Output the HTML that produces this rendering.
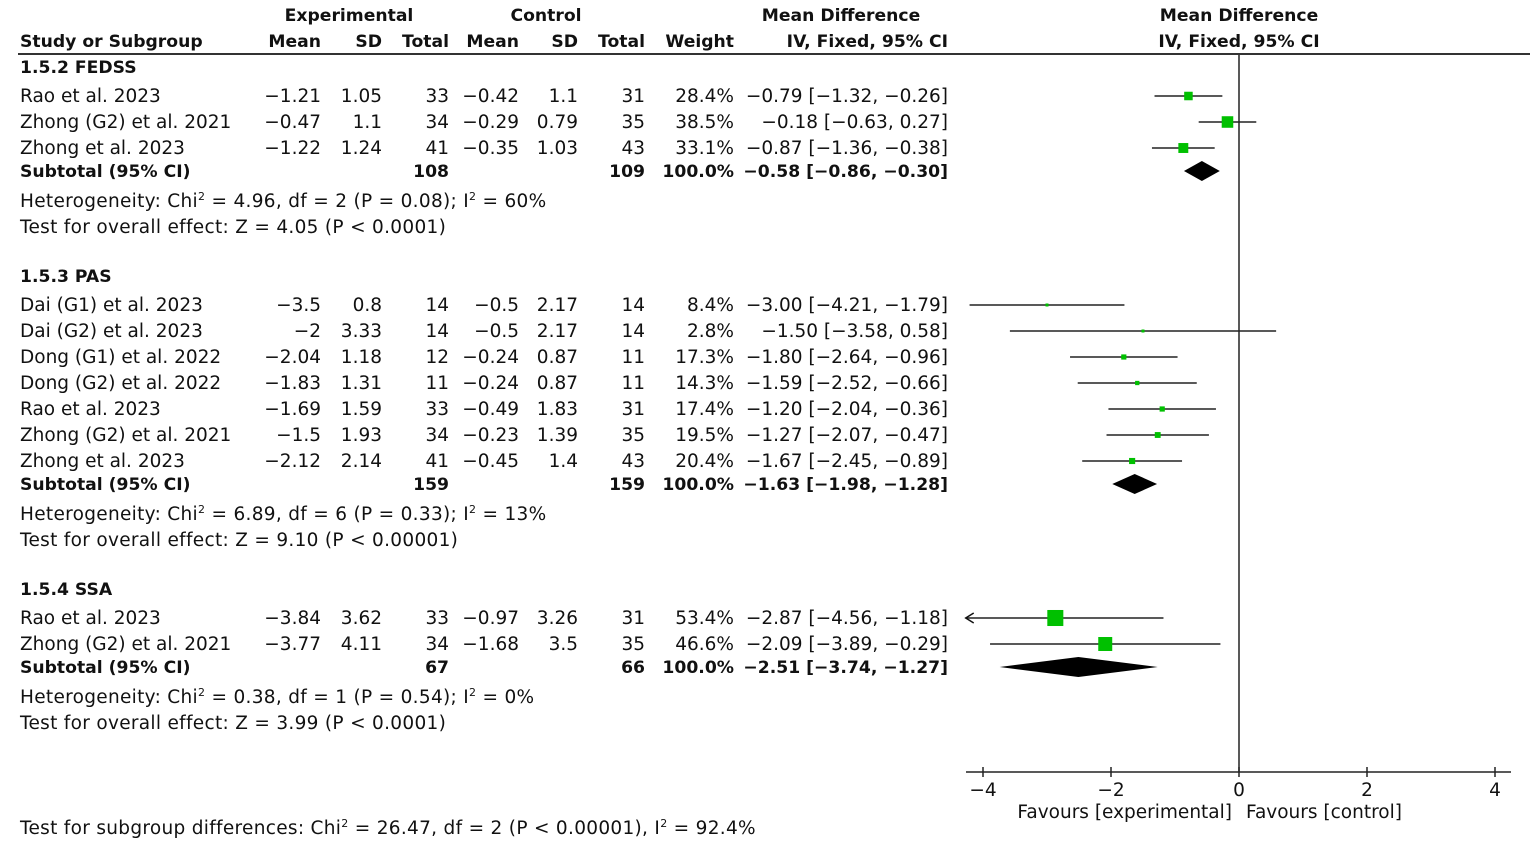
<!DOCTYPE html>
<html><head><meta charset="utf-8"><style>
html,body{margin:0;padding:0;background:#fff;}
svg{display:block;font-family:"DejaVu Sans","Liberation Sans",sans-serif;font-size:18.5px;fill:#111;}
.b{font-weight:bold;font-size:17.2px;}
.w{letter-spacing:0.3px;}
</style></head><body>
<svg id="c" width="1535" height="843" viewBox="0 0 1535 843" xmlns="http://www.w3.org/2000/svg">
<g class="b">
<text x="349" y="21" text-anchor="middle">Experimental</text>
<text x="546" y="21" text-anchor="middle">Control</text>
<text x="841" y="21" text-anchor="middle">Mean Difference</text>
<text x="1239" y="21" text-anchor="middle">Mean Difference</text>
<text x="20" y="47">Study or Subgroup</text>
<text x="321" y="47" text-anchor="end">Mean</text>
<text x="382" y="47" text-anchor="end">SD</text>
<text x="449" y="47" text-anchor="end">Total</text>
<text x="519" y="47" text-anchor="end">Mean</text>
<text x="578" y="47" text-anchor="end">SD</text>
<text x="645" y="47" text-anchor="end">Total</text>
<text x="734" y="47" text-anchor="end">Weight</text>
<text x="948" y="47" text-anchor="end">IV, Fixed, 95% CI</text>
<text x="1239" y="47" text-anchor="middle">IV, Fixed, 95% CI</text>
</g>
<line x1="18" y1="54" x2="1530" y2="54" stroke="#333" stroke-width="2"/>
<g id="rows"></g>
<g id="plot"></g>
<text class="w" x="20" y="834">Test for subgroup differences: Chi<tspan dy="-7" font-size="11">2</tspan><tspan dy="7"> = 26.47, df = 2 (P &lt; 0.00001), I</tspan><tspan dy="-7" font-size="11">2</tspan><tspan dy="7"> = 92.4%</tspan></text>
</svg>
<script>
const groupNames = ["1.5.2 FEDSS", "1.5.3 PAS", "1.5.4 SSA"];
const groupY = [67, 276, 589];
const studies = [
 ["Rao et al. 2023","Zhong (G2) et al. 2021","Zhong et al. 2023"],
 ["Dai (G1) et al. 2023","Dai (G2) et al. 2023","Dong (G1) et al. 2022","Dong (G2) et al. 2022","Rao et al. 2023","Zhong (G2) et al. 2021","Zhong et al. 2023"],
 ["Rao et al. 2023","Zhong (G2) et al. 2021"]
];
const expMean = [[-1.21,-0.47,-1.22],[-3.5,-2,-2.04,-1.83,-1.69,-1.5,-2.12],[-3.84,-3.77]];
const expSD = [[1.05,1.1,1.24],[0.8,3.33,1.18,1.31,1.59,1.93,2.14],[3.62,4.11]];
const expN = [[33,34,41],[14,14,12,11,33,34,41],[33,34]];
const ctlMean = [[-0.42,-0.29,-0.35],[-0.5,-0.5,-0.24,-0.24,-0.49,-0.23,-0.45],[-0.97,-1.68]];
const ctlSD = [[1.1,0.79,1.03],[2.17,2.17,0.87,0.87,1.83,1.39,1.4],[3.26,3.5]];
const ctlN = [[31,35,43],[14,14,11,11,31,35,43],[31,35]];
const weight = [[28.4,38.5,33.1],[8.4,2.8,17.3,14.3,17.4,19.5,20.4],[53.4,46.6]];
const md = [[-0.79,-0.18,-0.87],[-3.00,-1.50,-1.80,-1.59,-1.20,-1.27,-1.67],[-2.87,-2.09]];
const lo = [[-1.32,-0.63,-1.36],[-4.21,-3.58,-2.64,-2.52,-2.04,-2.07,-2.45],[-4.56,-3.89]];
const hi = [[-0.26,0.27,-0.38],[-1.79,0.58,-0.96,-0.66,-0.36,-0.47,-0.89],[-1.18,-0.29]];
const subExpN = [108,159,67], subCtlN = [109,159,66];
const subMD = [-0.58,-1.63,-2.51], subLo = [-0.86,-1.98,-3.74], subHi = [-0.30,-1.28,-1.27];
const hetChi = ["4.96","6.89","0.38"], hetDf = [2,6,1], hetP = ["0.08","0.33","0.54"], hetI2 = ["60%","13%","0%"];
const zVal = ["4.05","9.10","3.99"], zP = ["P < 0.0001","P < 0.00001","P < 0.0001"];
const ticks = [-4,-2,0,2,4];

const NS="http://www.w3.org/2000/svg";
const X0=1239, PX=64, XMIN=-4.27, XMAX=4.27, AXY=772;
const xs = v => X0 + v*PX;
const rowsG=document.getElementById('rows'), plotG=document.getElementById('plot');
function el(tag, attrs, parent, txt){const e=document.createElementNS(NS,tag);for(const k in attrs)e.setAttribute(k,attrs[k]);if(txt!==undefined)e.textContent=txt;parent.appendChild(e);return e;}
function fmt(v){const s=(Math.abs(v)).toString();return (v<0?"\u2212":"")+s;}
function f2(v){return (v<0?"\u2212":"")+Math.abs(v).toFixed(2);}
const cols=[321,382,449,519,578,645,734];
function ci(m,l,h){return f2(m)+" ["+f2(l)+", "+f2(h)+"]";}
function sup(t,parts){
 let prev=false;
 parts.forEach(p=>{const ts=el('tspan',{},t,p[0]);if(p[1]){ts.setAttribute('dy','-7');ts.setAttribute('font-size','11');prev=true;}else if(prev){ts.setAttribute('dy','7');prev=false;}});
}
groupNames.forEach((gn,g)=>{
 const gy=groupY[g];
 const h=el('text',{x:20,y:gy+6,class:'b'},rowsG,gn);
 
 
 let y=gy+29;
 studies[g].forEach((s,i)=>{
  const row=el('g',{},rowsG);
  
  
  el('text',{x:20,y:y+6},row,s);
  const vals=[fmt(expMean[g][i]),String(expSD[g][i]),String(expN[g][i]),fmt(ctlMean[g][i]),String(ctlSD[g][i]),String(ctlN[g][i]),weight[g][i].toFixed(1)+"%"];
  vals.forEach((v,k)=>el('text',{x:cols[k],y:y+6,'text-anchor':'end'},row,v));
  el('text',{x:948,y:y+6,'text-anchor':'end'},row,ci(md[g][i],lo[g][i],hi[g][i]));
  const l=Math.max(lo[g][i],XMIN), r=Math.min(hi[g][i],XMAX);
  const ln=el('line',{x1:xs(l),y1:y,x2:xs(r),y2:y,stroke:'#222','stroke-width':1.5},plotG);
  
  
  if(lo[g][i]<XMIN){const a=el('path',{d:`M${xs(XMIN)+8},${y-5} L${xs(XMIN)},${y} L${xs(XMIN)+8},${y+5}`,fill:'none',stroke:'#111','stroke-width':1.5},plotG);
   
   }
  const sz=Math.max(3,weight[g][i]*0.3);
  const bx=el('rect',{x:xs(md[g][i])-sz/2,y:y-sz/2,width:sz,height:sz,fill:'#00c000'},plotG);
  
  
  y+=26;
 });
 y-=3;
 const st=el('g',{class:'b'},rowsG);
 
 
 el('text',{x:20,y:y+6},st,"Subtotal (95% CI)");
 el('text',{x:449,y:y+6,'text-anchor':'end'},st,String(subExpN[g]));
 el('text',{x:645,y:y+6,'text-anchor':'end'},st,String(subCtlN[g]));
 el('text',{x:734,y:y+6,'text-anchor':'end'},st,"100.0%");
 el('text',{x:948,y:y+6,'text-anchor':'end'},st,ci(subMD[g],subLo[g],subHi[g]));
 const d=el('path',{d:`M${xs(subLo[g])},${y} L${xs(subMD[g])},${y-10} L${xs(subHi[g])},${y} L${xs(subMD[g])},${y+10} Z`,fill:'#000'},plotG);
 
 
 const ht=el('text',{x:20,y:y+36,class:'w'},rowsG);
 
 
 sup(ht,[["Heterogeneity: Chi",0],["2",1],[" = "+hetChi[g]+", df = "+hetDf[g]+" (P = "+hetP[g]+"); I",0],["2",1],[" = "+hetI2[g],0]]);
 const zt=el('text',{x:20,y:y+62,class:'w'},rowsG,"Test for overall effect: Z = "+zVal[g]+" ("+zP[g]+")");
 
 
});
const zl=el('line',{x1:X0,y1:55,x2:X0,y2:AXY,stroke:'#222','stroke-width':1.5},plotG);


const ax=el('line',{x1:966,y1:AXY,x2:1511,y2:AXY,stroke:'#222','stroke-width':1.5},plotG);


ticks.forEach(t=>{
 el('line',{x1:xs(t),y1:AXY-5,x2:xs(t),y2:AXY+5,stroke:'#222','stroke-width':1.5},plotG);
 const tl=el('text',{x:xs(t),y:AXY+24,'text-anchor':'middle'},plotG,fmt(t));
 
 
});
const f1=el('text',{x:1232,y:818,'text-anchor':'end'},plotG,"Favours [experimental]");


const f2l=el('text',{x:1246,y:818},plotG,"Favours [control]");


</script>
</body></html>
